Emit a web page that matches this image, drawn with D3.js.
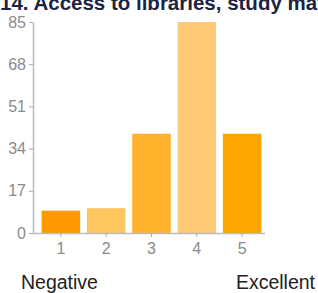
<!DOCTYPE html>
<html>
<head>
<meta charset="utf-8">
<script src="https://cdn.jsdelivr.net/npm/d3@7"></script>
<style>
  body { margin: 0; background: #fff; overflow: hidden; }
  svg { display: block; font-family: "Liberation Sans", Arial, sans-serif; }
</style>
</head>
<body>
<script>
// chart data
var categories = ["1", "2", "3", "4", "5"];
var values = [9, 10, 40, 85, 40];
var barColors = ["#ff9900", "#ffc55e", "#ffb32c", "#ffca78", "#ffa500"];
var yTicks = [0, 17, 34, 51, 68, 85];
var title = "14. Access to libraries, study materials";
var leftLabel = "Negative";
var rightLabel = "Excellent";

var svgWidth = 318, svgHeight = 293;

var svg = d3.select("body").append("svg")
  .attr("width", svgWidth)
  .attr("height", svgHeight);

// title, clipped at the top like the original
svg.append("text")
  .attr("x", 0)
  .attr("y", 10)
  .attr("font-size", "20.5px")
  .attr("font-weight", "bold")
  .attr("fill", "#1b2442")
  .text(title);

var x = d3.scaleBand()
  .domain(categories)
  .range([38, 265])
  .paddingInner(0.15)
  .paddingOuter(0.08);

var y = d3.scaleLinear()
  .domain([0, 85])
  .range([233, 22]);

// bars
svg.append("g")
  .selectAll("rect")
  .data(values)
  .enter().append("rect")
  .attr("x", (d, i) => x(categories[i]))
  .attr("y", d => y(d))
  .attr("width", x.bandwidth())
  .attr("height", d => y(0) - y(d))
  .attr("fill", (d, i) => barColors[i]);

// y axis
var yAxis = svg.append("g")
  .attr("transform", "translate(33,0)")
  .call(d3.axisLeft(y).tickValues(yTicks).tickSize(4).tickPadding(3).tickSizeOuter(0));

// x axis
var xAxis = svg.append("g")
  .attr("transform", "translate(0,233)")
  .call(d3.axisBottom(x).tickSize(4).tickPadding(6).tickSizeOuter(0));

xAxis.select(".domain").attr("d", "M33,0.5H265");

[yAxis, xAxis].forEach(function(a) {
  a.select(".domain").attr("stroke", "#bbb").attr("stroke-width", 1.5);
  a.selectAll(".tick line").attr("stroke", "#aaa");
  a.selectAll(".tick text")
    .attr("fill", "#8a8a8a")
    .attr("font-size", "16px")
    .attr("font-family", "Liberation Sans, Arial, sans-serif");
});

// bottom scale labels
svg.append("text")
  .attr("x", 21)
  .attr("y", 289)
  .attr("font-size", "19.5px")
  .attr("fill", "#222")
  .text(leftLabel);

svg.append("text")
  .attr("x", 315)
  .attr("y", 289)
  .attr("text-anchor", "end")
  .attr("font-size", "19.5px")
  .attr("fill", "#222")
  .text(rightLabel);
</script>
</body>
</html>
